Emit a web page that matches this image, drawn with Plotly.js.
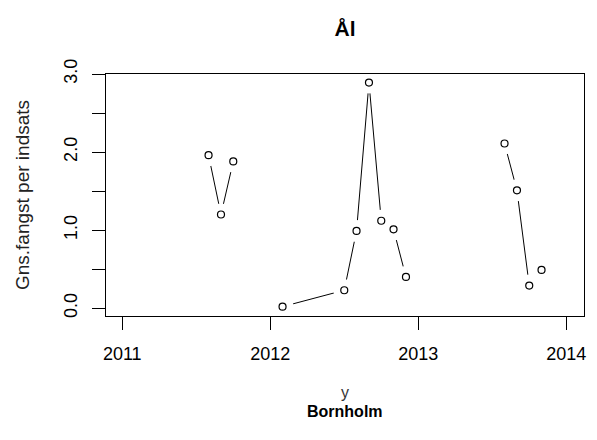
<!DOCTYPE html>
<html>
<head>
<meta charset="utf-8">
<script src="https://cdn.plot.ly/plotly-3.0.1.min.js"></script>
<style>html,body{margin:0;padding:0;background:#fff;}#chart{width:597px;height:440px;}</style>
</head>
<body>
<div id="chart"></div>
<script>
// Decimal year (month positions) and mean catch per effort; null = gap in the series
var xYear = [2011.583, 2011.667, 2011.750, null, 2012.083, 2012.500, 2012.583, 2012.667, 2012.750, 2012.833, 2012.917, null, 2013.583, 2013.667, 2013.750, 2013.833];
var catchPerEffort = [1.96, 1.20, 1.88, null, 0.02, 0.23, 0.99, 2.89, 1.12, 1.01, 0.40, null, 2.11, 1.51, 0.29, 0.49];
var xTickVals = [2011, 2012, 2013, 2014];
var xTickText = ['2011', '2012', '2013', '2014'];
var yTickVals = [0, 0.5, 1, 1.5, 2, 2.5, 3];
var yTickText = ['0.0', '', '1.0', '', '2.0', '', '3.0'];
var titleText = 'Ål';
var xTitle = 'y';
var subTitle = 'Bornholm';
var yTitle = 'Gns.fangst per indsats';

var font = 'Liberation Sans, Arial, sans-serif';

var traces = [
  {x: xYear, y: catchPerEffort, mode: 'lines', connectgaps: false,
   line: {color: '#000', width: 1}, hoverinfo: 'skip', showlegend: false},
  {x: xYear, y: catchPerEffort, mode: 'markers',
   marker: {symbol: 'circle', size: 22, color: '#fff', line: {width: 0}}, hoverinfo: 'skip', showlegend: false},
  {x: xYear, y: catchPerEffort, mode: 'markers',
   marker: {symbol: 'circle-open', size: 7, color: '#000', line: {width: 1.2, color: '#000'}}, showlegend: false}
];

var layout = {
  width: 597, height: 440,
  margin: {l: 106, r: 13, t: 74, b: 124},
  paper_bgcolor: '#fff', plot_bgcolor: '#fff',
  font: {family: font, color: '#000', size: 18},
  title: {text: '<b>' + titleText + '</b>', x: 0.578, xanchor: 'center', y: 0.935, yanchor: 'middle', yref: 'container',
          font: {family: font, size: 21, color: '#000'}},
  xaxis: {range: [2010.89, 2014.12], tickvals: xTickVals, ticktext: xTickText,
          showgrid: false, zeroline: false, showline: true, mirror: true, linecolor: '#000', linewidth: 1,
          ticks: 'outside', ticklen: 13, tickwidth: 1, tickcolor: '#000', layer: 'above traces',
          ticklabelstandoff: 8,
          tickfont: {family: font, size: 18, color: '#000'},
          title: {text: xTitle, font: {family: font, size: 16, color: '#333'}, standoff: 24}},
  yaxis: {range: [-0.1, 3.0], tickvals: yTickVals, ticktext: yTickText, tickangle: -90,
          showgrid: false, zeroline: false, showline: true, mirror: true, linecolor: '#000', linewidth: 1,
          ticks: 'outside', ticklen: 13, tickwidth: 1, tickcolor: '#000', layer: 'above traces',
          ticklabelstandoff: 8,
          tickfont: {family: font, size: 18, color: '#000'},
          title: {text: yTitle, font: {family: font, size: 19, color: '#222'}, standoff: 26}},
  annotations: [
    {text: '<b>' + subTitle + '</b>', xref: 'paper', yref: 'paper', x: 0.5, y: -0.395, xanchor: 'center', yanchor: 'middle',
     showarrow: false, font: {family: font, size: 16, color: '#000'}}
  ]
};

Plotly.newPlot('chart', traces, layout, {displayModeBar: false, staticPlot: true});
</script>
</body>
</html>
